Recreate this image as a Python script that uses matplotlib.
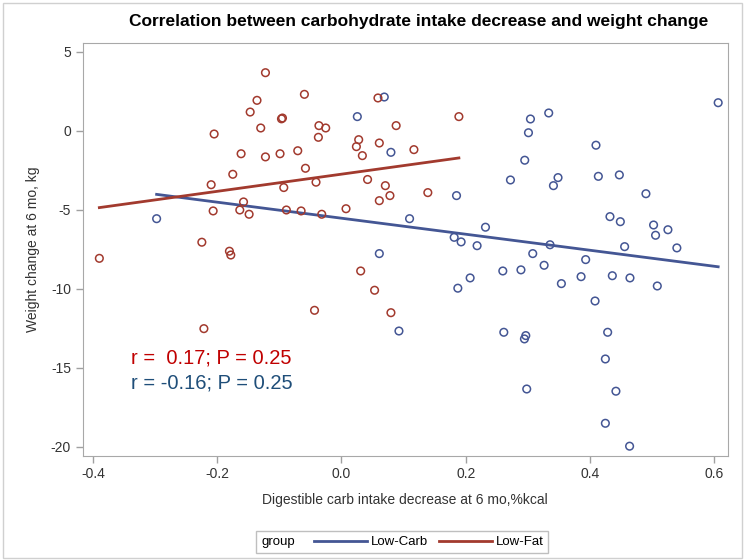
import matplotlib.pyplot as plt
from matplotlib.lines import Line2D
from matplotlib.patches import Rectangle
from matplotlib.offsetbox import HPacker

plt.rcParams['font.family'] = ['Liberation Sans', 'DejaVu Sans']
plt.rcParams['axes.unicode_minus'] = False

# Low-Fat group (red)
lf_x = [-0.1224, -0.136, -0.147, -0.130, -0.0966, -0.0950, -0.205, -0.1616, -0.1224, -0.0989,
        -0.175, -0.2098, -0.0929, -0.1577, -0.2066, -0.1637, -0.1487, -0.0887, -0.0597, 0.0587,
        0.189, -0.0363, -0.0254, 0.088, -0.0372, 0.0277, 0.024, 0.0609, 0.0336, 0.1166,
        -0.0704, -0.058, -0.041, 0.042, 0.0706, 0.078, 0.0609, 0.139, -0.065, -0.0318,
        0.0073, -0.3898, -0.2248, -0.1804, -0.1782, -0.2215, 0.0309, 0.0533, -0.0434, 0.0796]
lf_y = [3.67, 1.92, 1.18, 0.17, 0.75, 0.80, -0.21, -1.46, -1.66, -1.46,
        -2.76, -3.42, -3.60, -4.51, -5.08, -5.02, -5.29, -5.02, 2.30, 2.07,
        0.89, 0.32, 0.17, 0.32, -0.42, -0.57, -1.01, -0.78, -1.58, -1.20,
        -1.27, -2.38, -3.26, -3.09, -3.48, -4.11, -4.43, -3.92, -5.08, -5.29,
        -4.94, -8.08, -7.06, -7.63, -7.87, -12.53, -8.88, -10.10, -11.37, -11.52]

# Low-Carb group (blue)
lc_x = [0.0689, 0.0255, 0.0796, 0.1852, 0.272, 0.1096, -0.2976, 0.6064, 0.3336, 0.3042,
        0.301, 0.4097, 0.295, 0.3486, 0.3412, 0.4135, 0.4473, 0.4901, 0.4322, 0.4489,
        0.5024, 0.5255, 0.5056, 0.5399, 0.4558, 0.3357, 0.3079, 0.3931, 0.2597, 0.2889,
        0.3262, 0.354, 0.3857, 0.436, 0.4644, 0.5084, 0.4082, 0.2613, 0.2967, 0.2945,
        0.4285, 0.4248, 0.2982, 0.4418, 0.4248, 0.4638, 0.2318, 0.1814, 0.1926, 0.2183,
        0.0609, 0.2071, 0.1873, 0.0925]
lc_y = [2.13, 0.89, -1.37, -4.11, -3.12, -5.57, -5.57, 1.77, 1.12, 0.74,
        -0.13, -0.92, -1.87, -2.97, -3.48, -2.89, -2.80, -3.99, -5.44, -5.76,
        -5.97, -6.27, -6.62, -7.42, -7.34, -7.22, -7.78, -8.16, -8.88, -8.81,
        -8.52, -9.68, -9.24, -9.18, -9.32, -9.83, -10.78, -12.76, -12.97, -13.18,
        -12.76, -14.45, -16.35, -16.49, -18.52, -19.97, -6.11, -6.75, -7.04, -7.28,
        -7.78, -9.32, -9.97, -12.68]

# regression lines (intercept, slope)
lf_fit = (-2.753, 5.43)
lc_fit = (-5.54, -5.07)

x_ticks = [-0.4, -0.2, 0.0, 0.2, 0.4, 0.6]
x_tick_labels = ['-0.4', '-0.2', '0.0', '0.2', '0.4', '0.6']
y_ticks = [5, 0, -5, -10, -15, -20]

blue = '#445694'
red = '#a23a2e'

fig = plt.figure(figsize=(7.45, 5.6), dpi=100)
ax = fig.add_axes([0.111, 0.1863, 0.866, 0.7375])

ax.scatter(lc_x, lc_y, s=30, facecolors='none', edgecolors=blue, linewidths=1.1, zorder=3)
ax.scatter(lf_x, lf_y, s=30, facecolors='none', edgecolors=red, linewidths=1.1, zorder=3)

for xs, fit, col in [(lc_x, lc_fit, blue), (lf_x, lf_fit, red)]:
    x0, x1 = min(xs), max(xs)
    ax.plot([x0, x1], [fit[0] + fit[1] * x0, fit[0] + fit[1] * x1], color=col, lw=2, zorder=2)

ax.set_xlim(-0.4166, 0.622)
ax.set_ylim(-20.57, 5.57)
ax.set_xticks(x_ticks)
ax.set_xticklabels(x_tick_labels)
ax.set_yticks(y_ticks)

for sp in ax.spines.values():
    sp.set_color('#a8a8a8')
ax.tick_params(colors='#a0a0a0', labelcolor='#333333', labelsize=10, length=5, width=1)

ax.set_xlabel('Digestible carb intake decrease at 6 mo,%kcal', fontsize=10, color='#333333', labelpad=8)
ax.set_ylabel('Weight change at 6 mo, kg', fontsize=10, color='#333333', labelpad=8)
fig.text(0.562, 0.961, 'Correlation between carbohydrate intake decrease and weight change',
         fontsize=12.5, fontweight='bold', ha='center', va='center')

ax.text(0.0748, 0.2366, 'r =  0.17; P = 0.25', transform=ax.transAxes,
        color='#c00000', fontsize=14.5, va='center', ha='left')
ax.text(0.0748, 0.176, 'r = -0.16; P = 0.25', transform=ax.transAxes,
        color='#1f4e79', fontsize=14.5, va='center', ha='left')

handles = [Line2D([], [], color=blue, lw=2), Line2D([], [], color=red, lw=2)]
leg = fig.legend(handles, ['Low-Carb', 'Low-Fat'], title='group', ncol=2,
                 loc='center', bbox_to_anchor=(0.54, 0.032), fontsize=9.5,
                 title_fontsize=9.5, handlelength=4, handletextpad=0.3,
                 columnspacing=0.8, frameon=True, fancybox=False, borderpad=0.35)
leg.get_frame().set_edgecolor('#b0b0b0')
leg.get_frame().set_linewidth(1)
fs = leg._fontsize
leg._legend_box = HPacker(pad=leg.borderpad * fs, sep=1.5 * fs, align='center',
                          children=[leg._legend_title_box, leg._legend_handle_box])
leg._legend_box.set_figure(fig)
leg._legend_box.set_offset(leg._findoffset)

fig.patches.append(Rectangle((0.004, 0.004), 0.992, 0.99, transform=fig.transFigure,
                             fill=False, edgecolor='#d0d0d0', lw=1))

fig.savefig('out.png', dpi=100)
